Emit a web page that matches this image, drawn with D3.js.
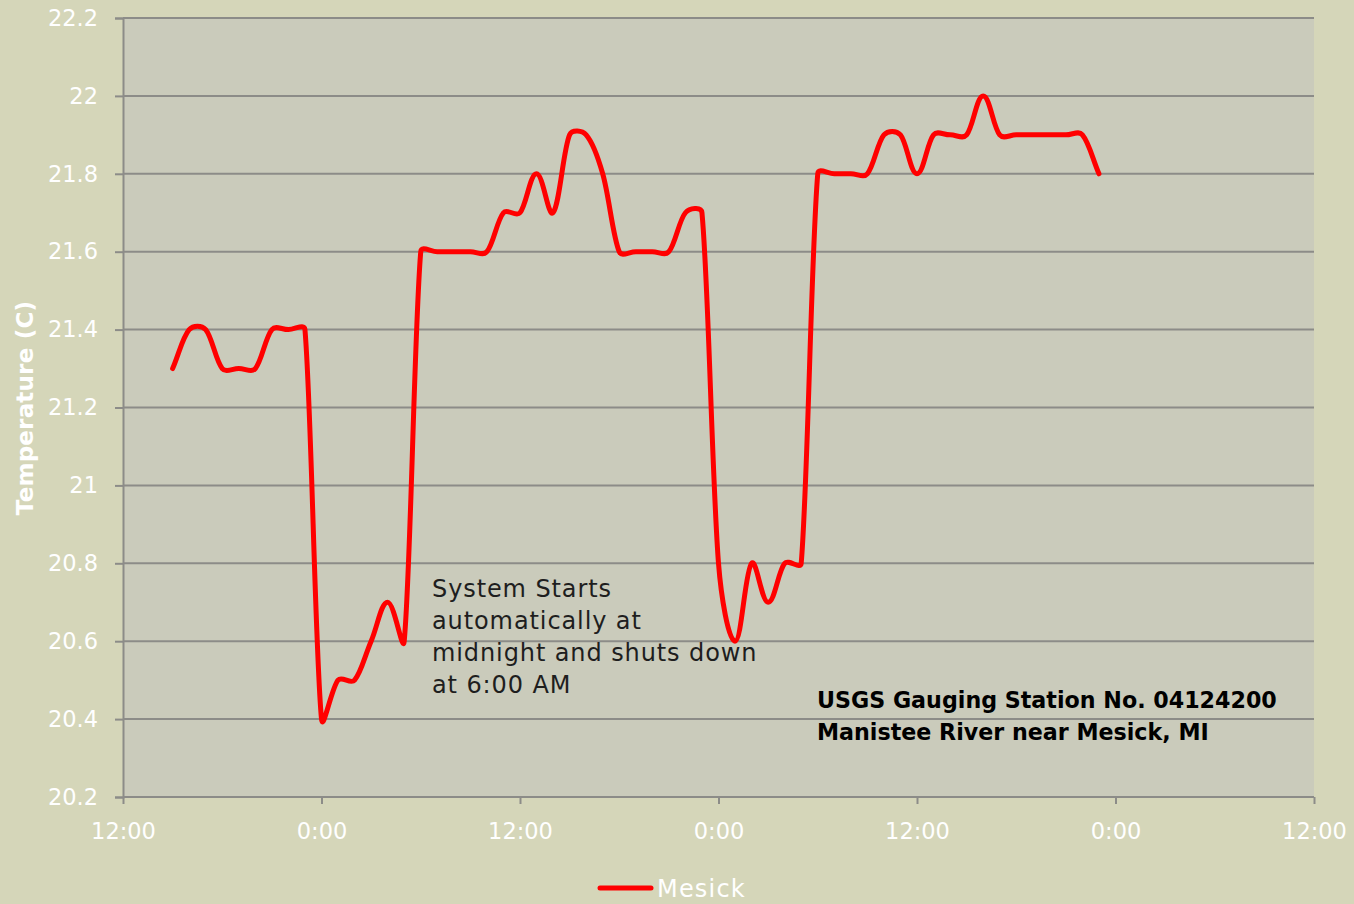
<!DOCTYPE html>
<html>
<head>
<meta charset="utf-8">
<script src="https://cdn.jsdelivr.net/npm/d3@7/dist/d3.min.js"></script>
<style>
  html, body { margin: 0; padding: 0; background: #d5d6b9; }
  svg { display: block; }
</style>
</head>
<body>
<svg id="chart" width="1354" height="904"></svg>
<script>
// Hours since first 12:00 tick
const hours = [3,4,5,6,7,8,9,10,11,12,13,14,15,16,17,18,19,20,21,22,23,24,25,26,27,28,29,30,31,32,33,34,35,36,37,38,39,40,41,42,43,44,45,46,47,48,49,50,51,52,53,54,55,56,57,58,59];
const mesick = [21.3,21.4,21.4,21.3,21.3,21.3,21.4,21.4,21.4,20.4,20.5,20.5,20.6,20.7,20.6,21.6,21.6,21.6,21.6,21.6,21.7,21.7,21.8,21.7,21.9,21.9,21.8,21.6,21.6,21.6,21.6,21.7,21.7,20.8,20.6,20.8,20.7,20.8,20.8,21.8,21.8,21.8,21.8,21.9,21.9,21.8,21.9,21.9,21.9,22.0,21.9,21.9,21.9,21.9,21.9,21.9,21.8];
const xTickHours = [0,12,24,36,48,60,72];
const xTickLabels = ["12:00","0:00","12:00","0:00","12:00","0:00","12:00"];
const yTicks = [20.2,20.4,20.6,20.8,21,21.2,21.4,21.6,21.8,22,22.2];
const seriesName = "Mesick";
const yTitle = "Temperature (C)";
const noteLines = ["System Starts","automatically at","midnight and shuts down","at 6:00 AM"];
const stationLines = ["USGS Gauging Station No. 04124200","Manistee River near Mesick, MI"];

const svg = d3.select("#chart");
const W = 1354, H = 904;
const m = {left:123, right:1314, top:18, bottom:797};
const font = "'DejaVu Sans', sans-serif";

// Spreadsheet-style smoothing: tangent along neighbours, split by segment lengths
function curveSmooth(context) {
  let pts = [];
  const f = 0.42, clampK = 0.4;
  return {
    areaStart() {}, areaEnd() {},
    lineStart() { pts = []; },
    point(px, py) { pts.push([+px, +py]); },
    lineEnd() {
      const n = pts.length;
      if (!n) return;
      context.moveTo(pts[0][0], pts[0][1]);
      if (n === 1) return;
      const cps = [];
      for (let i = 0; i < n; i++) {
        const p0 = pts[Math.max(0, i - 1)], p2 = pts[Math.min(n - 1, i + 1)], p1 = pts[i];
        const d0 = Math.hypot(p1[0] - p0[0], p1[1] - p0[1]);
        const d1 = Math.hypot(p2[0] - p1[0], p2[1] - p1[1]);
        const s = d0 + d1 || 1;
        const tx = p2[0] - p0[0], ty = p2[1] - p0[1];
        let bx = tx * f * d0 / s, by = ty * f * d0 / s;
        let ax = tx * f * d1 / s, ay = ty * f * d1 / s;
        const dx0 = (p1[0] - p0[0]) * clampK, dx1 = (p2[0] - p1[0]) * clampK;
        if (Math.abs(bx) > dx0 && bx !== 0) { const k = dx0 / Math.abs(bx); bx *= k; by *= k; }
        if (Math.abs(ax) > dx1 && ax !== 0) { const k = dx1 / Math.abs(ax); ax *= k; ay *= k; }
        cps.push({bx: p1[0] - bx, by: p1[1] - by, ax: p1[0] + ax, ay: p1[1] + ay});
      }
      for (let i = 0; i < n - 1; i++) {
        context.bezierCurveTo(cps[i].ax, cps[i].ay, cps[i + 1].bx, cps[i + 1].by, pts[i + 1][0], pts[i + 1][1]);
      }
    }
  };
}

svg.append("rect").attr("width", W).attr("height", H).attr("fill", "#d5d6b9");

const x = d3.scaleLinear().domain([0,72]).range([m.left, m.right]);
const y = d3.scaleLinear().domain([20.2,22.2]).range([m.bottom, m.top]);

// plot area
svg.append("rect").attr("x", m.left).attr("y", m.top)
  .attr("width", m.right - m.left).attr("height", m.bottom - m.top)
  .attr("fill", "#cacbbb");

// gridlines
svg.append("g").selectAll("line").data(yTicks.filter(v => v > 20.2)).join("line")
  .attr("x1", m.left).attr("x2", m.right)
  .attr("y1", d => y(d)).attr("y2", d => y(d))
  .attr("stroke", "#8c8c88").attr("stroke-width", 2);

// Y axis
const yAxis = d3.axisLeft(y).tickValues(yTicks).tickSize(8).tickPadding(17)
  .tickFormat(d => d3.format("")(+d.toFixed(1)));
const gy = svg.append("g").attr("transform", `translate(${m.left},0)`).call(yAxis);
gy.select(".domain").attr("stroke", "#8c8c88").attr("stroke-width", 2);
gy.selectAll(".tick line").attr("stroke", "#8c8c88").attr("stroke-width", 2);
gy.selectAll(".tick text").attr("fill", "#ffffff").attr("font-family", font)
  .attr("font-size", 22.5);

// X axis
const xAxis = d3.axisBottom(x).tickValues(xTickHours).tickSize(7).tickPadding(19)
  .tickFormat((d, i) => xTickLabels[i]);
const gx = svg.append("g").attr("transform", `translate(0,${m.bottom})`).call(xAxis);
gx.select(".domain").attr("stroke", "#8c8c88").attr("stroke-width", 2)
  .attr("d", `M${m.left},0H${m.right}`);
gx.selectAll(".tick line").attr("stroke", "#8c8c88").attr("stroke-width", 2);
gx.selectAll(".tick text").attr("fill", "#ffffff").attr("font-family", font)
  .attr("font-size", 22.5);

// Line
const data = hours.map((h, i) => ({h, v: mesick[i]}));
const line = d3.line().x(d => x(d.h)).y(d => y(d.v)).curve(curveSmooth);
svg.append("path").datum(data).attr("d", line)
  .attr("fill", "none").attr("stroke", "#ff0000").attr("stroke-width", 5)
  .attr("stroke-linejoin", "round").attr("stroke-linecap", "round");

// Y title
svg.append("text").attr("transform", `translate(33,408) rotate(-90)`)
  .attr("text-anchor", "middle").attr("fill", "#ffffff")
  .attr("font-family", font).attr("font-weight", "bold").attr("font-size", 23)
  .attr("letter-spacing", 0.2)
  .text(yTitle);

// Annotation
const note = svg.append("text").attr("fill", "#1e1e1e").attr("font-family", font)
  .attr("font-size", 24).attr("letter-spacing", 0.9);
noteLines.forEach((t, i) => note.append("tspan").attr("x", 432).attr("y", 597 + i * 32).text(t));

const st = svg.append("text").attr("fill", "#000000").attr("font-family", font)
  .attr("font-weight", "bold").attr("font-size", 22.2);
stationLines.forEach((t, i) => st.append("tspan").attr("x", 817).attr("y", 708 + i * 32).text(t));

// Legend
const lg = svg.append("g");
lg.append("line").attr("x1", 600).attr("x2", 651).attr("y1", 888).attr("y2", 888)
  .attr("stroke", "#ff0000").attr("stroke-width", 5).attr("stroke-linecap", "round");
lg.append("text").attr("x", 657).attr("y", 897).attr("fill", "#ffffff")
  .attr("font-family", font).attr("font-size", 24).attr("letter-spacing", 1.2).text(seriesName);
</script>
</body>
</html>
